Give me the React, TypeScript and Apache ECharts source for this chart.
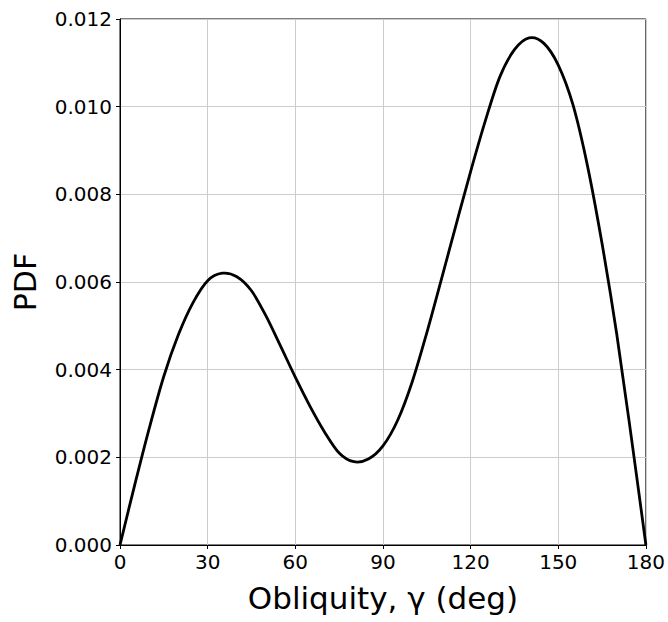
import React, { useEffect, useRef } from "react";
import * as echarts from "echarts";

const obliquityDeg: number[] = [
  0, 5, 10, 15, 20, 25, 30, 35, 40, 45, 50, 55, 60, 65, 70, 75, 80, 85, 90,
  95, 100, 105, 110, 115, 120, 125, 130, 135, 140, 145, 150, 155, 160, 165,
  170, 175, 180,
];
const pdfValues: number[] = [
  0, 0.00136, 0.00266, 0.00385, 0.0048, 0.00553, 0.00603, 0.0062, 0.00612,
  0.0058, 0.00522, 0.00453, 0.00383, 0.00317, 0.00258, 0.0021, 0.0019,
  0.00196, 0.00226, 0.00284, 0.00372, 0.00484, 0.00606, 0.0073, 0.00852,
  0.00967, 0.01068, 0.0113, 0.01157, 0.01145, 0.01095, 0.01005, 0.00865,
  0.00687, 0.00482, 0.00246, 0,
];
const xTicks: number[] = [0, 30, 60, 90, 120, 150, 180];
const yTicks: number[] = [0, 0.002, 0.004, 0.006, 0.008, 0.01, 0.012];

const FONT = "DejaVu Sans";

export default function App() {
  const ref = useRef<HTMLDivElement>(null);
  useEffect(() => {
    if (!ref.current) return;
    const chart = echarts.init(ref.current, undefined, { renderer: "svg" });
    const data = obliquityDeg.map((x, i) => [x, pdfValues[i]]);
    chart.setOption({
      animation: false,
      backgroundColor: "#ffffff",
      grid: {
        left: 120,
        right: 22,
        top: 19,
        bottom: 77,
        show: true,
        borderColor: "#000000",
        borderWidth: 1,
        backgroundColor: "transparent",
      },
      xAxis: {
        type: "value",
        min: xTicks[0],
        max: xTicks[xTicks.length - 1],
        interval: xTicks[1] - xTicks[0],
        name: "Obliquity, γ (deg)",
        nameLocation: "middle",
        nameGap: 37,
        nameTextStyle: { fontFamily: FONT, fontSize: 31, color: "#000" },
        axisLine: { show: true, onZero: false, lineStyle: { color: "#000", width: 1 } },
        axisTick: { show: true, inside: false, length: 4, lineStyle: { color: "#000", width: 1 } },
        axisLabel: { fontFamily: FONT, fontSize: 20, color: "#000", margin: 7 },
        splitLine: { show: true, lineStyle: { color: "#cccccc", width: 1 } },
      },
      yAxis: {
        type: "value",
        min: yTicks[0],
        max: yTicks[yTicks.length - 1],
        interval: yTicks[1] - yTicks[0],
        name: "PDF",
        nameLocation: "middle",
        nameRotate: 90,
        nameGap: 80,
        nameTextStyle: { fontFamily: FONT, fontSize: 30, color: "#000" },
        axisLine: { show: true, onZero: false, lineStyle: { color: "#000", width: 1 } },
        axisTick: { show: true, inside: false, length: 4, lineStyle: { color: "#000", width: 1 } },
        axisLabel: {
          fontFamily: FONT,
          fontSize: 20,
          color: "#000",
          margin: 8,
          formatter: (v: number) => v.toFixed(3),
        },
        splitLine: { show: true, lineStyle: { color: "#cccccc", width: 1 } },
      },
      series: [
        {
          type: "custom",
          coordinateSystem: "cartesian2d",
          data,
          encode: { x: 0, y: 1 },
          clip: false,
          silent: true,
          renderItem: (params: any, api: any) => {
            if (params.dataIndex !== 0) return null;
            const pts: number[][] = data.map((d) => api.coord(d));
            const n = pts.length;
            let d = `M${pts[0][0]},${pts[0][1]}`;
            for (let i = 0; i < n - 1; i++) {
              const p0 = pts[Math.max(0, i - 1)];
              const p1 = pts[i];
              const p2 = pts[i + 1];
              const p3 = pts[Math.min(n - 1, i + 2)];
              const c1x = p1[0] + (p2[0] - p0[0]) / 6;
              const c1y = p1[1] + (p2[1] - p0[1]) / 6;
              const c2x = p2[0] - (p3[0] - p1[0]) / 6;
              const c2y = p2[1] - (p3[1] - p1[1]) / 6;
              d += ` C${c1x},${c1y} ${c2x},${c2y} ${p2[0]},${p2[1]}`;
            }
            return {
              type: "path",
              shape: { pathData: d },
              style: {
                fill: "none",
                stroke: "#000000",
                lineWidth: 2.8,
                lineJoin: "round",
              },
            };
          },
        },
      ],
    });
    return () => chart.dispose();
  }, []);
  return (
    <div
      ref={ref}
      style={{ position: "absolute", left: 0, top: 0, width: 668, height: 622 }}
    />
  );
}
